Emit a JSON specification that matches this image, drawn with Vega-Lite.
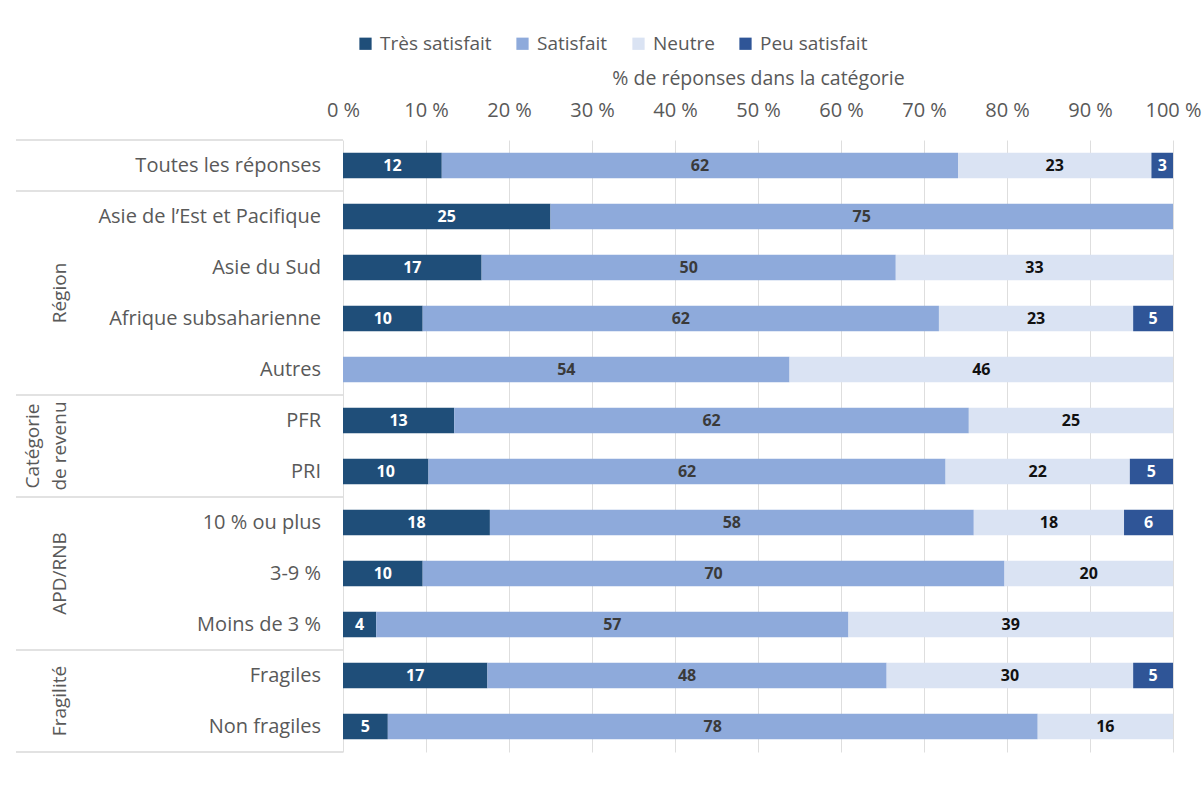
{
  "$schema": "https://vega.github.io/schema/vega-lite/v6.json",
  "padding": {"left": 15, "top": 34, "right": 5, "bottom": 44},
  "background": "white",
  "bounds": "flush",
  "config": {"font": "Open Sans", "view": {"stroke": null}, "concat": {"spacing": 0}},
  "datasets": {
    "bars": [
      {"row": "Toutes les réponses", "cat": "Très satisfait", "rank": 1, "value": 11.9},
      {"row": "Toutes les réponses", "cat": "Satisfait", "rank": 2, "value": 62.2},
      {"row": "Toutes les réponses", "cat": "Neutre", "rank": 3, "value": 23.3},
      {"row": "Toutes les réponses", "cat": "Peu satisfait", "rank": 4, "value": 2.6},
      {"row": "Asie de l’Est et Pacifique", "cat": "Très satisfait", "rank": 1, "value": 25},
      {"row": "Asie de l’Est et Pacifique", "cat": "Satisfait", "rank": 2, "value": 75},
      {"row": "Asie du Sud", "cat": "Très satisfait", "rank": 1, "value": 16.7},
      {"row": "Asie du Sud", "cat": "Satisfait", "rank": 2, "value": 49.9},
      {"row": "Asie du Sud", "cat": "Neutre", "rank": 3, "value": 33.4},
      {"row": "Afrique subsaharienne", "cat": "Très satisfait", "rank": 1, "value": 9.6},
      {"row": "Afrique subsaharienne", "cat": "Satisfait", "rank": 2, "value": 62.2},
      {"row": "Afrique subsaharienne", "cat": "Neutre", "rank": 3, "value": 23.4},
      {"row": "Afrique subsaharienne", "cat": "Peu satisfait", "rank": 4, "value": 4.8},
      {"row": "Autres", "cat": "Satisfait", "rank": 2, "value": 53.8},
      {"row": "Autres", "cat": "Neutre", "rank": 3, "value": 46.2},
      {"row": "PFR", "cat": "Très satisfait", "rank": 1, "value": 13.4},
      {"row": "PFR", "cat": "Satisfait", "rank": 2, "value": 62.0},
      {"row": "PFR", "cat": "Neutre", "rank": 3, "value": 24.6},
      {"row": "PRI", "cat": "Très satisfait", "rank": 1, "value": 10.3},
      {"row": "PRI", "cat": "Satisfait", "rank": 2, "value": 62.3},
      {"row": "PRI", "cat": "Neutre", "rank": 3, "value": 22.2},
      {"row": "PRI", "cat": "Peu satisfait", "rank": 4, "value": 5.2},
      {"row": "10 % ou plus", "cat": "Très satisfait", "rank": 1, "value": 17.7},
      {"row": "10 % ou plus", "cat": "Satisfait", "rank": 2, "value": 58.3},
      {"row": "10 % ou plus", "cat": "Neutre", "rank": 3, "value": 18.1},
      {"row": "10 % ou plus", "cat": "Peu satisfait", "rank": 4, "value": 5.9},
      {"row": "3-9 %", "cat": "Très satisfait", "rank": 1, "value": 9.6},
      {"row": "3-9 %", "cat": "Satisfait", "rank": 2, "value": 70.1},
      {"row": "3-9 %", "cat": "Neutre", "rank": 3, "value": 20.3},
      {"row": "Moins de 3 %", "cat": "Très satisfait", "rank": 1, "value": 4.0},
      {"row": "Moins de 3 %", "cat": "Satisfait", "rank": 2, "value": 56.9},
      {"row": "Moins de 3 %", "cat": "Neutre", "rank": 3, "value": 39.1},
      {"row": "Fragiles", "cat": "Très satisfait", "rank": 1, "value": 17.4},
      {"row": "Fragiles", "cat": "Satisfait", "rank": 2, "value": 48.1},
      {"row": "Fragiles", "cat": "Neutre", "rank": 3, "value": 29.7},
      {"row": "Fragiles", "cat": "Peu satisfait", "rank": 4, "value": 4.8},
      {"row": "Non fragiles", "cat": "Très satisfait", "rank": 1, "value": 5.4},
      {"row": "Non fragiles", "cat": "Satisfait", "rank": 2, "value": 78.3},
      {"row": "Non fragiles", "cat": "Neutre", "rank": 3, "value": 16.3}
    ],
    "rows": [
      {"row": "Toutes les réponses"},
      {"row": "Asie de l’Est et Pacifique"},
      {"row": "Asie du Sud"},
      {"row": "Afrique subsaharienne"},
      {"row": "Autres"},
      {"row": "PFR"},
      {"row": "PRI"},
      {"row": "10 % ou plus"},
      {"row": "3-9 %"},
      {"row": "Moins de 3 %"},
      {"row": "Fragiles"},
      {"row": "Non fragiles"}
    ],
    "groupStarts": [
      {"row": "Toutes les réponses"},
      {"row": "Asie de l’Est et Pacifique"},
      {"row": "PFR"},
      {"row": "10 % ou plus"},
      {"row": "Fragiles"}
    ],
    "groupEnd": [
      {"row": "Non fragiles"}
    ],
    "groupsEven": [
      {"row": "Afrique subsaharienne", "grp": "Région"},
      {"row": "Non fragiles", "grp": "Fragilité"}
    ],
    "groupsTwoLine": [
      {"row": "PRI", "grp": "Catégorie\nde revenu"}
    ],
    "groupsOdd": [
      {"row": "3-9 %", "grp": "APD/RNB"}
    ]
  },
  "resolve": {"scale": {"y": "shared"}},
  "hconcat": [
    {
      "width": 327,
      "height": 612,
      "layer": [
        {
          "data": {"name": "groupStarts"},
          "mark": {"type": "rule", "color": "#d9d9d9", "strokeWidth": 1.5},
          "encoding": {
            "y": {"field": "row", "type": "nominal", "bandPosition": 0,
                  "scale": {"domain": ["Toutes les réponses", "Asie de l’Est et Pacifique", "Asie du Sud", "Afrique subsaharienne", "Autres", "PFR", "PRI", "10 % ou plus", "3-9 %", "Moins de 3 %", "Fragiles", "Non fragiles"], "paddingInner": 0, "paddingOuter": 0},
                  "axis": null}
          }
        },
        {
          "data": {"name": "groupEnd"},
          "mark": {"type": "rule", "color": "#d9d9d9", "strokeWidth": 1.5},
          "encoding": {
            "y": {"field": "row", "type": "nominal", "bandPosition": 1, "axis": null}
          }
        },
        {
          "data": {"name": "rows"},
          "mark": {"type": "text", "align": "right", "baseline": "middle", "fontSize": 20, "color": "#595959", "x": 305},
          "encoding": {
            "y": {"field": "row", "type": "nominal", "axis": null},
            "text": {"field": "row"}
          }
        },
        {
          "data": {"name": "groupsEven"},
          "mark": {"type": "text", "align": "center", "baseline": "bottom", "angle": 270, "fontSize": 19, "color": "#595959", "x": 54},
          "encoding": {
            "y": {"field": "row", "type": "nominal", "bandPosition": 0, "axis": null},
            "text": {"field": "grp"}
          }
        },
        {
          "data": {"name": "groupsTwoLine"},
          "mark": {"type": "text", "align": "center", "baseline": "bottom", "angle": 270, "fontSize": 19, "color": "#595959", "x": 27, "lineBreak": "\n", "lineHeight": 27},
          "encoding": {
            "y": {"field": "row", "type": "nominal", "bandPosition": 0, "axis": null},
            "text": {"field": "grp"}
          }
        },
        {
          "data": {"name": "groupsOdd"},
          "mark": {"type": "text", "align": "center", "baseline": "bottom", "angle": 270, "fontSize": 19, "color": "#595959", "x": 54},
          "encoding": {
            "y": {"field": "row", "type": "nominal", "bandPosition": 0.5, "axis": null},
            "text": {"field": "grp"}
          }
        }
      ]
    },
    {
      "width": 830,
      "height": 612,
      "data": {"name": "bars"},
      "encoding": {
        "y": {"field": "row", "type": "nominal", "axis": null}
      },
      "layer": [
        {
          "mark": {"type": "bar", "height": {"band": 0.5}},
          "encoding": {
            "x": {"field": "value", "type": "quantitative", "stack": "zero",
                  "scale": {"domain": [0, 100], "nice": false},
                  "axis": {"orient": "top", "title": "% de réponses dans la catégorie", "values": [0, 10, 20, 30, 40, 50, 60, 70, 80, 90, 100],
                           "labelExpr": "datum.value + ' %'", "domain": false, "ticks": false, "tickSize": 0, "grid": true, "gridColor": "#dedede",
                           "labelFontSize": 20, "labelColor": "#595959", "titleFontSize": 19.5, "titleColor": "#595959", "titleFontWeight": "normal",
                           "labelPadding": 20, "titlePadding": 12, "labelFlush": false}},
            "color": {"field": "cat", "type": "nominal",
                      "scale": {"domain": ["Très satisfait", "Satisfait", "Neutre", "Peu satisfait"], "range": ["#1f4e79", "#8eaadb", "#dae3f3", "#2f5597"]},
                      "legend": {"orient": "none", "legendX": 340, "legendY": -106, "direction": "horizontal", "title": null, "symbolType": "square", "symbolSize": 150, "symbolStrokeWidth": 0, "labelFontSize": 19, "labelColor": "#595959", "columnPadding": 21, "labelOffset": 5}},
            "order": {"field": "rank", "type": "quantitative"}
          }
        },
        {
          "mark": {"type": "text", "fontWeight": "bold", "fontSize": 16, "baseline": "middle", "align": "center"},
          "encoding": {
            "x": {"field": "value", "type": "quantitative", "stack": "zero", "bandPosition": 0.5},
            "detail": {"field": "cat", "type": "nominal"},
            "order": {"field": "rank", "type": "quantitative"},
            "text": {"field": "value", "type": "quantitative", "format": ".0f"},
            "color": {"condition": [{"test": "datum.cat === 'Neutre'", "value": "#111111"}, {"test": "datum.cat === 'Satisfait'", "value": "#3a3a3a"}], "value": "white"}
          }
        }
      ]
    }
  ]
}
